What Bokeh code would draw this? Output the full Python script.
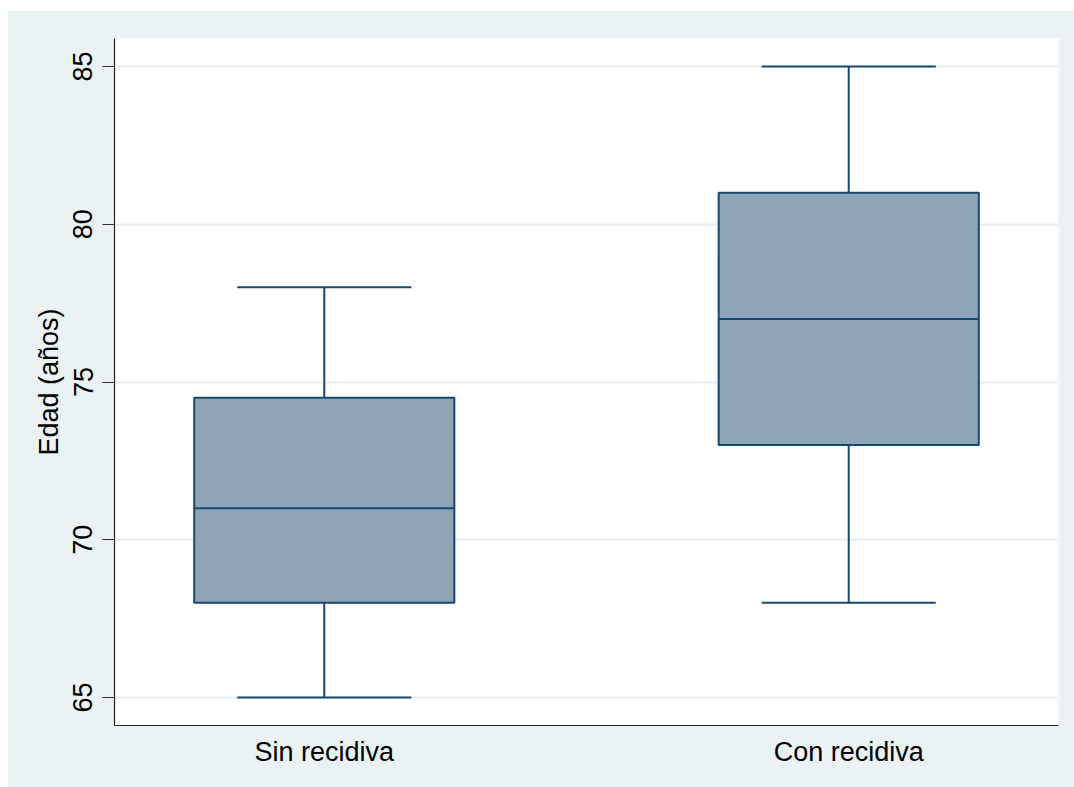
from bokeh.plotting import figure
from bokeh.models import FixedTicker, Range1d, ColumnDataSource
from bokeh.embed import file_html
from bokeh.resources import INLINE

categories = ["Sin recidiva", "Con recidiva"]
whisker_low = [65, 68]
q1 = [68, 73]
median = [71, 77]
q3 = [74.5, 81]
whisker_high = [78, 85]
y_ticks = [65, 70, 75, 80, 85]

xpos = [i + 1 for i in range(len(categories))]
box_w = 0.496
cap_w = 0.332

navy = "#1a476f"
fill = "#8ea4b8"
bg = "#eaf2f3"
font = "Liberation Sans"

src = ColumnDataSource(dict(
    x=xpos,
    left=[x - box_w / 2 for x in xpos],
    right=[x + box_w / 2 for x in xpos],
    cap_l=[x - cap_w / 2 for x in xpos],
    cap_r=[x + cap_w / 2 for x in xpos],
    wl=whisker_low, q1=q1, med=median, q3=q3, wh=whisker_high,
))

p = figure(width=1067, height=777, output_backend="svg", toolbar_location=None,
           x_range=Range1d(0.6, 2.4), y_range=Range1d(64.11, 85.89),
           min_border_left=107, min_border_right=16, min_border_top=28, min_border_bottom=62)
p.margin = (10, 0, 0, 7)

p.background_fill_color = "white"
p.border_fill_color = bg
p.outline_line_color = None

# whiskers
p.segment(x0="x", x1="x", y0="wl", y1="q1", source=src, line_color=navy, line_width=2)
p.segment(x0="x", x1="x", y0="q3", y1="wh", source=src, line_color=navy, line_width=2)
p.segment(x0="cap_l", x1="cap_r", y0="wl", y1="wl", source=src, line_color=navy, line_width=2)
p.segment(x0="cap_l", x1="cap_r", y0="wh", y1="wh", source=src, line_color=navy, line_width=2)
# boxes
p.quad(left="left", right="right", bottom="q1", top="q3", source=src,
       fill_color=fill, line_color=navy, line_width=2)
p.segment(x0="left", x1="right", y0="med", y1="med", source=src, line_color=navy, line_width=2)

# axes
p.xaxis.ticker = FixedTicker(ticks=xpos)
p.xaxis.major_label_overrides = {x: c for x, c in zip(xpos, categories)}
p.xaxis.major_tick_line_color = None
p.xaxis.minor_tick_line_color = None
p.xaxis.major_label_standoff = 5
p.xaxis.major_label_text_font = font
p.xaxis.major_label_text_font_size = "27px"
p.xaxis.major_label_text_color = "black"
p.xaxis.axis_line_color = "#222222"
p.xaxis.axis_line_width = 1.2
p.xgrid.grid_line_color = None

p.yaxis.ticker = FixedTicker(ticks=y_ticks)
p.yaxis.major_label_orientation = "vertical"
p.yaxis.major_tick_out = 12
p.yaxis.major_tick_in = 0
p.yaxis.major_tick_line_color = "#333333"
p.yaxis.minor_tick_line_color = None
p.yaxis.major_label_standoff = 10
p.yaxis.major_label_text_font = font
p.yaxis.major_label_text_font_size = "27px"
p.yaxis.major_label_text_color = "black"
p.yaxis.axis_line_color = "#222222"
p.yaxis.axis_line_width = 1.2
p.yaxis.axis_label = "Edad (años)"
p.yaxis.axis_label_text_font = font
p.yaxis.axis_label_text_font_size = "27px"
p.yaxis.axis_label_text_font_style = "normal"
p.yaxis.axis_label_text_color = "black"
p.yaxis.axis_label_standoff = 7
p.ygrid.grid_line_color = "#e5eef2"
p.ygrid.grid_line_width = 2

open("out.html", "w").write(file_html(p, INLINE))
